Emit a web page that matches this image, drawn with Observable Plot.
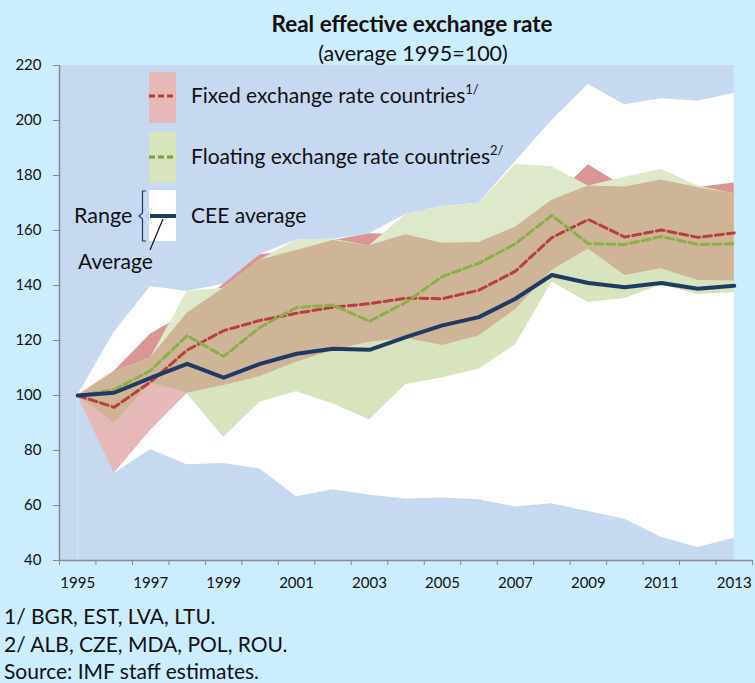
<!DOCTYPE html>
<html>
<head>
<meta charset="utf-8">
<script src="https://cdn.jsdelivr.net/npm/d3@7"></script>
<script src="https://cdn.jsdelivr.net/npm/@observablehq/plot@0.6"></script>
<style>
  html, body { margin: 0; padding: 0; background: #ccecff; }
  #wrap { position: relative; width: 755px; height: 683px; overflow: hidden; font-family: Lato, "Open Sans", sans-serif; color: #111; }
  #chart { position: absolute; left: 0; top: 45px; }
  #overlay { position: absolute; left: 0; top: 0; pointer-events: none; }
</style>
</head>
<body>
<div id="wrap">
  <div id="chart"></div>
  <svg id="overlay" width="755" height="683" font-family="Lato, 'Open Sans', sans-serif" fill="#111">
    <text x="412" y="32" text-anchor="middle" font-weight="bold" font-size="22.5">Real effective exchange rate</text>
    <text x="413" y="61" text-anchor="middle" font-size="21.5">(average 1995=100)</text>

    <rect x="149" y="72" width="27" height="51" fill="#e6b9b8"></rect>
    <line x1="149" x2="176" y1="96" y2="96" stroke="#c0392f" stroke-width="3" stroke-dasharray="6 3"></line>
    <text x="191" y="103" font-size="21">Fixed exchange rate countries<tspan font-size="13" dy="-9">1/</tspan></text>

    <rect x="149" y="132" width="27" height="51" fill="#d7e4bd"></rect>
    <line x1="149" x2="176" y1="157" y2="157" stroke="#7f9f3c" stroke-width="3" stroke-dasharray="6 3"></line>
    <text x="191" y="164" font-size="21">Floating exchange rate countries<tspan font-size="13" dy="-9">2/</tspan></text>

    <rect x="149" y="190" width="27" height="51" fill="#ffffff"></rect>
    <line x1="150" x2="176" y1="216" y2="216" stroke="#1f3b63" stroke-width="4"></line>
    <text x="191" y="223" font-size="21">CEE average</text>

    <text x="74" y="223" font-size="21.5">Range</text>
    <path d="M146 191 L142.5 191 L142.5 213 L139 216 L142.5 219 L142.5 241 L146 241" fill="none" stroke="#1f3b63" stroke-width="1.2"></path>
    <line x1="163" y1="219" x2="150" y2="250" stroke="#111" stroke-width="1.2"></line>
    <text x="78" y="269" font-size="21">Average</text>

    <text x="4" y="624" font-size="21">1/ BGR, EST, LVA, LTU.</text>
    <text x="4" y="652" font-size="21">2/ ALB, CZE, MDA, POL, ROU.</text>
    <text x="4" y="679" font-size="21">Source: IMF staff estimates.</text>
  </svg>
</div>
<script>
const years     = [1995,1996,1997,1998,1999,2000,2001,2002,2003,2004,2005,2006,2007,2008,2009,2010,2011,2012,2013];
const ceeAvg    = [100,101.0,106.4,111.5,106.5,111.5,115.2,117.0,116.6,121.2,125.5,128.5,135.2,143.8,140.9,139.4,140.9,138.8,139.9];
const ceeLow    = [100,71.6,80.4,74.8,75.3,73.3,63.2,65.7,63.7,62.4,62.7,62.1,59.5,60.6,57.8,55.0,48.5,44.7,48.1];
const ceeHigh   = [100,123.0,139.6,137.8,140.5,151.2,156.6,156.8,158.8,165.9,168.7,169.9,185.0,200.0,213.1,205.7,207.9,207.0,209.9];
const fixedAvg  = [100,95.7,105.0,116.5,123.6,127.3,129.9,132.1,133.4,135.4,135.2,138.3,145.2,157.4,164.0,157.6,160.2,157.5,159.1];
const fixedLow  = [100,71.8,87.5,100.8,103.6,106.9,112.1,116.4,119.4,120.8,118.2,121.6,131.2,145.5,153.3,143.6,146.1,141.8,141.6];
const fixedHigh = [100,108.8,122.4,129.9,140.5,151.2,152.7,156.4,158.8,158.5,155.4,155.6,161.2,171.0,183.9,175.8,178.4,175.6,177.3];
const floatAvg  = [100,102.1,109.1,121.8,114.2,124.8,132.0,132.9,127.0,133.9,143.3,148.1,155.2,165.5,155.2,154.9,157.8,154.9,155.2];
const floatLow  = [100,89.9,104.5,100.6,84.8,97.6,101.5,97.0,91.2,104.1,106.5,109.6,118.5,141.3,133.9,135.3,140.3,136.8,137.5];
const floatHigh = [100,108.5,113.7,137.8,139.0,149.3,156.6,156.8,154.5,165.9,168.7,169.9,184.0,183.2,176.2,179.4,182.3,176.2,173.4];
const yTicks    = [40,60,80,100,120,140,160,180,200,220];
const xLabels   = [1995,1997,1999,2001,2003,2005,2007,2009,2011,2013];

const rows = years.map((year, i) => {
  const fl = fixedLow[i], fh = fixedHigh[i], gl = floatLow[i], gh = floatHigh[i];
  const ovLo = Math.max(fl, gl), ovHi = Math.max(ovLo, Math.min(fh, gh));
  return {
    year, cee: ceeAvg[i], ceeLow: ceeLow[i], ceeHigh: ceeHigh[i],
    fixedAvg: fixedAvg[i], floatAvg: floatAvg[i],
    fl, fh, gl, gh,
    redBelowTop: Math.max(fl, Math.min(gl, fh)),
    greenBelowTop: Math.max(gl, Math.min(fl, gh)),
    ovLo, ovHi
  };
});

const x0 = years[0] - 0.5, x1 = years[years.length - 1] + 0.5;
const boundaries = years.map(y => y - 0.5).concat([x1]);
const yLo = yTicks[0], yHi = yTicks[yTicks.length - 1];

const plot = Plot.plot({
  width: 755,
  height: 560,
  marginLeft: 59,
  marginRight: 3,
  marginTop: 20,
  marginBottom: 45,
  style: {background: "transparent", fontFamily: "Lato, 'Open Sans', sans-serif", fontSize: "15px", color: "#111"},
  x: {domain: [x0, x1], axis: null},
  y: {domain: [yLo, yHi], axis: null},
  marks: [
    Plot.rect([0], {x1: x0, x2: years[years.length - 1], y1: yLo, y2: yHi, fill: "#c6d9f1"}),
    Plot.ruleX([years[0]], {y1: yLo, y2: ceeLow[0], stroke: "#d6e3f4", strokeWidth: 1}),
    Plot.areaY(rows, {x: "year", y1: "ceeLow", y2: "ceeHigh", fill: "#ffffff"}),
    Plot.areaY(rows, {x: "year", y1: "fl", y2: "fh", fill: "#d99694"}),
    Plot.areaY(rows, {x: "year", y1: "gl", y2: "gh", fill: "#dee8cb"}),
    Plot.areaY(rows, {x: "year", y1: "fl", y2: "redBelowTop", fill: "#e6b9b8"}),
    Plot.areaY(rows, {x: "year", y1: "gl", y2: "greenBelowTop", fill: "#d7e4bd"}),
    Plot.areaY(rows, {x: "year", y1: "ovLo", y2: "ovHi", fill: "#cfb597"}),
    Plot.line(rows, {x: "year", y: "fixedAvg", stroke: "#b8403c", strokeWidth: 3, strokeDasharray: "8 4"}),
    Plot.line(rows, {x: "year", y: "floatAvg", stroke: "#8bb04a", strokeWidth: 3, strokeDasharray: "8 4"}),
    Plot.line(rows, {x: "year", y: "cee", stroke: "#1f3b63", strokeWidth: 4, strokeLinecap: "round"}),
    Plot.ruleX([x0], {y1: yLo, y2: yHi, stroke: "#8a8a8a", strokeWidth: 1.5}),
    Plot.ruleY([yLo], {x1: x0, x2: x1, stroke: "#8a8a8a", strokeWidth: 1.5}),
    Plot.axisY({ticks: yTicks, tickSize: 6, tickPadding: 12, stroke: "#8a8a8a", fill: "#111", fontSize: 15, label: null, tickFormat: d => String(d)}),
    Plot.axisX({ticks: boundaries, tickSize: 5, stroke: "#8a8a8a", tickFormat: () => "", label: null}),
    Plot.axisX({ticks: xLabels, tickSize: 0, tickPadding: 17, fill: "#111", fontSize: 15, label: null, tickFormat: d => String(d)})
  ]
});
document.getElementById("chart").appendChild(plot);
</script>
</body>
</html>
